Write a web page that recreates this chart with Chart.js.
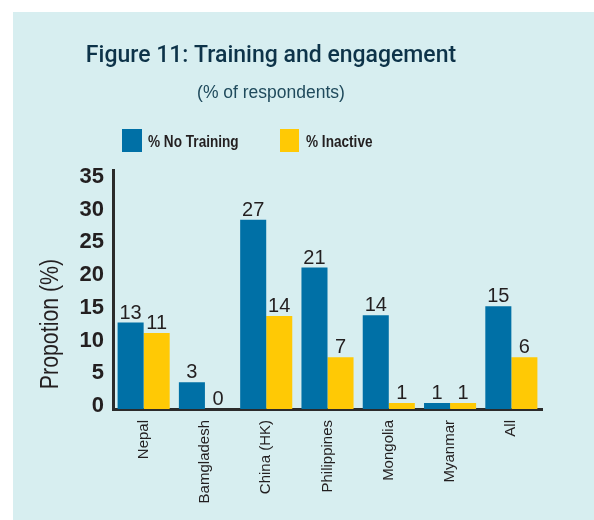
<!DOCTYPE html>
<html>
<head>
<meta charset="utf-8">
<script src="https://cdn.jsdelivr.net/npm/chart.js@4.4.1/dist/chart.umd.min.js"></script>
<style>
  body { margin: 0; background: #fff; }
  canvas { display: block; }
</style>
</head>
<body>
<canvas id="chart" width="594" height="520"></canvas>
<script>
const categories = ['Nepal', 'Bamgladesh', 'China (HK)', 'Philippines', 'Mongolia', 'Myanmar', 'All'];
// bar heights as drawn in the figure
const noTrainingBars = [13.2, 4.1, 28.9, 21.6, 14.3, 0.9, 15.7];
const inactiveBars = [11.6, 0, 14.2, 7.9, 0.9, 0.9, 7.9];
// numbers printed above the bars
const noTrainingLabels = ['13', '3', '27', '21', '14', '1', '15'];
const inactiveLabels = ['11', '0', '14', '7', '1', '1', '6'];
const yTicks = [0, 5, 10, 15, 20, 25, 30, 35];

const BLUE = '#0070a6';
const YELLOW = '#ffc905';
const INK = '#231f20';

// draw text squeezed horizontally, to look like a condensed face
function narrowText(ctx, text, x, y, squeeze) {
  ctx.save();
  ctx.translate(x, y);
  ctx.scale(squeeze, 1);
  ctx.fillText(text, 0, 0);
  ctx.restore();
}

const panelPlugin = {
  id: 'panel',
  beforeDraw(chart) {
    const ctx = chart.ctx;
    ctx.save();
    ctx.fillStyle = '#ffffff';
    ctx.fillRect(0, 0, chart.width, chart.height);
    ctx.fillStyle = '#d7eef0';
    ctx.fillRect(13, 12, chart.width - 13, chart.height - 12);
    ctx.restore();
  },
  afterDatasetsDraw(chart) {
    const ctx = chart.ctx;
    const labels = [noTrainingLabels, inactiveLabels];
    ctx.save();
    ctx.font = '20px "Liberation Sans", Arial, sans-serif';
    ctx.fillStyle = INK;
    ctx.textAlign = 'center';
    ctx.textBaseline = 'alphabetic';
    chart.data.datasets.forEach((ds, i) => {
      chart.getDatasetMeta(i).data.forEach((bar, j) => {
        ctx.fillText(labels[i][j], bar.x, bar.y - 4);
      });
    });
    ctx.restore();
  },
  afterDraw(chart) {
    const ctx = chart.ctx;
    ctx.save();
    // legend
    const items = [
      { x: 122, w: 20, textX: 148 },
      { x: 280, w: 19, textX: 306 }
    ];
    ctx.font = 'bold 17px "Liberation Sans", sans-serif';
    ctx.textBaseline = 'alphabetic';
    ctx.textAlign = 'left';
    chart.data.datasets.forEach((ds, i) => {
      ctx.fillStyle = ds.backgroundColor;
      ctx.fillRect(items[i].x, 129, items[i].w, 23);
      ctx.fillStyle = INK;
      narrowText(ctx, ds.label, items[i].textX, 147, 0.8);
    });
    // y axis title
    ctx.translate(51, 324);
    ctx.rotate(-Math.PI / 2);
    ctx.font = '26px "Liberation Sans", sans-serif';
    ctx.textAlign = 'center';
    ctx.textBaseline = 'middle';
    ctx.fillStyle = INK;
    narrowText(ctx, 'Propotion (%)', 0, 0, 0.82);
    ctx.restore();
  }
};

new Chart(document.getElementById('chart'), {
  type: 'bar',
  data: {
    labels: categories,
    datasets: [
      {
        label: '% No Training',
        data: noTrainingBars,
        backgroundColor: BLUE,
        categoryPercentage: 0.85,
        barPercentage: 1
      },
      {
        label: '% Inactive',
        data: inactiveBars,
        backgroundColor: YELLOW,
        categoryPercentage: 0.85,
        barPercentage: 1
      }
    ]
  },
  options: {
    responsive: false,
    animation: false,
    layout: { padding: { left: 0, right: 52, top: 0, bottom: 0 } },
    plugins: {
      legend: { display: false },
      tooltip: { enabled: false },
      title: {
        display: true,
        text: 'Figure 11: Training and engagement',
        color: '#0d3349',
        font: { family: 'Roboto', size: 23, weight: '500' },
        padding: { top: 42, bottom: 12 }
      },
      subtitle: {
        display: true,
        text: '(% of respondents)',
        color: '#1f4a5c',
        font: { family: '"Liberation Sans"', size: 17.5 },
        padding: { top: 1, bottom: 67 }
      }
    },
    scales: {
      x: {
        grid: { display: false, drawTicks: false },
        border: { display: true, color: '#2b2b2b', width: 3 },
        ticks: {
          color: INK,
          font: { family: '"Liberation Sans"', size: 15 },
          maxRotation: 90,
          minRotation: 90,
          padding: 11,
          autoSkip: false
        },
        afterFit(scale) { scale.height = 111; }
      },
      y: {
        min: 0,
        max: 36.4,
        grid: { display: false, drawTicks: false },
        border: { display: true, color: '#2b2b2b', width: 3 },
        ticks: {
          color: INK,
          font: { family: '"Liberation Sans"', size: 22, weight: 'bold' },
          padding: 9,
          labelOffset: -3
        },
        afterBuildTicks(scale) {
          scale.ticks = yTicks.map(v => ({ value: v }));
        },
        afterFit(scale) { scale.width = 113; }
      }
    }
  },
  plugins: [panelPlugin]
});
</script>
</body>
</html>
